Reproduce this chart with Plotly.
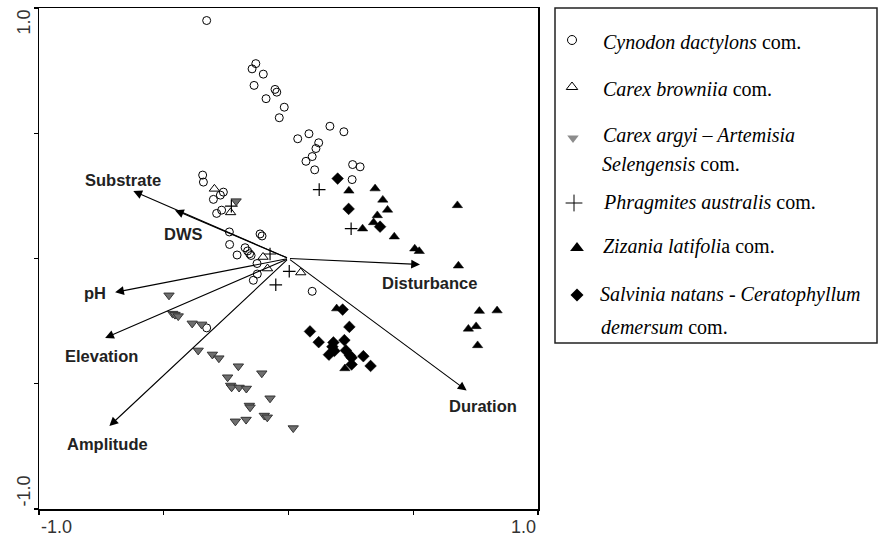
import plotly.graph_objects as go

# ---------------- data (ordination scores) ----------------
cyn_x = [-0.328, -0.131, -0.146, -0.101, -0.138, -0.054, -0.047, -0.090, -0.017, -0.037,
         0.037, 0.166, 0.222, 0.082, 0.121, 0.110, 0.095, 0.070, 0.257, 0.287, 0.105, 0.255,
         -0.344, -0.341, -0.261, -0.273, -0.301, -0.268, -0.288, -0.237, -0.114, -0.106,
         -0.236, -0.206, -0.174, -0.164, -0.156, -0.150, -0.126, -0.125, -0.141, -0.328, 0.095]
cyn_y = [0.950, 0.778, 0.757, 0.736, 0.691, 0.675, 0.664, 0.638, 0.604, 0.562,
         0.478, 0.528, 0.506, 0.498, 0.462, 0.439, 0.407, 0.388, 0.375, 0.366, 0.354, 0.315,
         0.333, 0.305, 0.265, 0.253, 0.236, 0.193, 0.180, 0.106, 0.098, 0.090,
         0.056, 0.014, 0.043, 0.030, 0.019, 0.012, -0.020, -0.062, -0.087, -0.277, -0.131]

cbr_x = [-0.297, -0.232, -0.102, -0.084, 0.049]
cbr_y = [0.278, 0.184, 0.006, -0.040, -0.056]

car_x = [-0.210, -0.479, -0.464, -0.455, -0.442, -0.386, -0.348, -0.362, -0.305, -0.279,
         -0.201, -0.107, -0.244, -0.232, -0.228, -0.198, -0.169, -0.074, -0.157, -0.154,
         -0.097, -0.085, -0.170, -0.213, 0.019]
car_y = [0.229, -0.147, -0.220, -0.224, -0.230, -0.259, -0.263, -0.367, -0.383, -0.398,
         -0.430, -0.458, -0.474, -0.507, -0.514, -0.515, -0.519, -0.558, -0.587, -0.594,
         -0.627, -0.634, -0.643, -0.650, -0.677]

phr_x = [-0.229, -0.074, 0.003, -0.051, 0.123, 0.251]
phr_y = [0.209, 0.018, -0.051, -0.105, 0.275, 0.119]

ziz_x = [0.242, 0.347, 0.378, 0.397, 0.356, 0.341, 0.297, 0.424, 0.506, 0.524,
         0.677, 0.681, 0.765, 0.836, 0.721, 0.752, 0.758, 0.193, 0.226]
ziz_y = [0.270, 0.279, 0.234, 0.194, 0.172, 0.144, 0.119, 0.087, 0.039, 0.029,
         0.212, -0.029, -0.210, -0.208, -0.281, -0.271, -0.347, -0.200, -0.439]

sal_x = [0.197, 0.241, 0.367, 0.217, 0.244, 0.086, 0.121, 0.180, 0.224, 0.176,
         0.184, 0.230, 0.162, 0.246, 0.253, 0.300, 0.253, 0.329]
sal_y = [0.319, 0.198, 0.127, -0.204, -0.273, -0.291, -0.334, -0.335, -0.326, -0.352,
         -0.369, -0.367, -0.384, -0.387, -0.396, -0.390, -0.423, -0.429]

env_names = ["Substrate", "DWS", "pH", "Elevation", "Amplitude", "Disturbance", "Duration"]
env_x = [-0.622, -0.455, -0.695, -0.735, -0.718, 0.527, 0.714]
env_y = [0.269, 0.193, -0.135, -0.317, -0.669, -0.024, -0.527]

legend_labels = [
    ["<i>Cynodon dactylons</i> com."],
    ["<i>Carex browniia</i> com."],
    ["<i>Carex argyi – Artemisia</i>", "<i>Selengensis</i> com."],
    ["<i>Phragmites australis</i> com."],
    ["<i>Zizania latifoli</i>a com."],
    ["<i>Salvinia natans - Ceratophyllum</i>", "<i>demersum</i> com."],
]

# ---------------- styles / layout positions ----------------
W, H = 878, 542
PL, PR, PT, PB = 39, 538, 8, 509          # plot frame in pixels
SANS = "Liberation Sans, Arial, sans-serif"
SERIF = "Liberation Serif, Times New Roman, serif"

# label positions (data units) for the environmental arrows
env_label_pos = {
    "Substrate": (-0.663, 0.315), "DWS": (-0.422, 0.096), "pH": (-0.776, -0.137),
    "Elevation": (-0.749, -0.390), "Amplitude": (-0.726, -0.740),
    "Disturbance": (0.567, -0.097), "Duration": (0.781, -0.590),
}

groups = [
    dict(x=cyn_x, y=cyn_y, symbol="circle-open", size=8, color="black", lw=1),
    dict(x=cbr_x, y=cbr_y, symbol="triangle-up-open", size=9, color="black", lw=1),
    dict(x=car_x, y=car_y, symbol="triangle-down", size=9, color="#6e6e6e", lw=1, lc="#333333"),
    dict(x=phr_x, y=phr_y, symbol="cross-thin", size=9, color="black", lw=1.2),
    dict(x=ziz_x, y=ziz_y, symbol="triangle-up", size=9, color="black", lw=0.5),
    dict(x=sal_x, y=sal_y, symbol="diamond", size=9, color="black", lw=0.5),
]

fig = go.Figure()
for g in groups:
    fig.add_trace(go.Scatter(
        x=g["x"], y=g["y"], mode="markers", xaxis="x", yaxis="y",
        marker=dict(symbol=g["symbol"], size=g["size"], color=g["color"],
                    line=dict(width=g["lw"], color=g.get("lc", g["color"]))),
        hoverinfo="skip", showlegend=False))

annotations = []
for name, ex, ey in zip(env_names, env_x, env_y):
    annotations.append(dict(
        x=ex, y=ey, ax=0, ay=0, xref="x", yref="y", axref="x", ayref="y",
        text="", showarrow=True, arrowhead=2, arrowsize=1.6, arrowwidth=1.1,
        arrowcolor="black", standoff=0, startstandoff=0))
    lx, ly = env_label_pos[name]
    annotations.append(dict(
        x=lx, y=ly, xref="x", yref="y", text="<b>%s</b>" % name, showarrow=False,
        font=dict(family=SANS, size=16.5, color="#222")))

# axis end labels
tick_font = dict(family=SANS, size=18, color="#333")
annotations += [
    dict(x=-1, y=1 - 527 / H, xref="x", yref="paper", text="-1.0", showarrow=False,
         xanchor="left", yanchor="middle", font=tick_font),
    dict(x=1, y=1 - 527 / H, xref="x", yref="paper", text="1.0", showarrow=False,
         xanchor="right", yanchor="middle", font=tick_font),
    dict(x=23 / W, y=1, xref="paper", yref="y", text="1.0", showarrow=False,
         textangle=-90, xanchor="center", yanchor="top", font=tick_font),
    dict(x=23 / W, y=-1, xref="paper", yref="y", text="-1.0", showarrow=False,
         textangle=-90, xanchor="center", yanchor="bottom", font=tick_font),
]

# legend (drawn manually)
leg_box = (555, 8, 877, 343)
leg_sym = [
    dict(px=572, py=40, symbol="circle-open", size=9, color="black", lw=1),
    dict(px=572, py=87, symbol="triangle-up-open", size=10, color="black", lw=1),
    dict(px=573, py=138, symbol="triangle-down", size=10, color="#8c8c8c", lw=0),
    dict(px=574, py=203, symbol="cross-thin", size=12, color="black", lw=1),
    dict(px=577, py=248, symbol="triangle-up", size=12, color="black", lw=0),
    dict(px=577, py=295, symbol="diamond", size=10, color="black", lw=0),
]
leg_text_pos = [[(601, 42)], [(601, 89)], [(601, 136), (600, 164)], [(601, 202)],
                [(601, 247)], [(598, 294), (599, 327)]]

for s in leg_sym:
    fig.add_trace(go.Scatter(
        x=[s["px"]], y=[s["py"]], mode="markers", xaxis="x2", yaxis="y2",
        marker=dict(symbol=s["symbol"], size=s["size"], color=s["color"],
                    line=dict(width=s["lw"], color=s["color"])),
        hoverinfo="skip", showlegend=False))

for lines, poss in zip(legend_labels, leg_text_pos):
    for t, (tx, ty) in zip(lines, poss):
        annotations.append(dict(
            x=tx / W, y=1 - ty / H, xref="paper", yref="paper", text=t, showarrow=False,
            xanchor="left", yanchor="middle", font=dict(family=SERIF, size=20, color="black")))

shapes = [dict(type="rect", xref="paper", yref="paper",
               x0=leg_box[0] / W, x1=leg_box[2] / W, y0=1 - leg_box[3] / H, y1=1 - leg_box[1] / H,
               line=dict(color="#222", width=1.5), fillcolor="rgba(0,0,0,0)")]

axis_common = dict(range=[-1, 1], tickvals=[-1, -0.5, 0, 0.5, 1], ticks="outside", ticklen=4,
                   tickwidth=1.2, tickcolor="black", showticklabels=False, showline=True,
                   mirror=True, linecolor="black", linewidth=1.5, showgrid=False,
                   zeroline=False, fixedrange=True)

fig.update_layout(
    width=W, height=H, margin=dict(l=0, r=0, t=0, b=0),
    paper_bgcolor="white", plot_bgcolor="rgba(0,0,0,0)", showlegend=False,
    xaxis=dict(domain=[PL / W, PR / W], anchor="y", **axis_common),
    yaxis=dict(domain=[1 - PB / H, 1 - PT / H], anchor="x", **axis_common),
    xaxis2=dict(domain=[0, 1], range=[0, W], visible=False, anchor="y2", fixedrange=True),
    yaxis2=dict(domain=[0, 1], range=[H, 0], visible=False, anchor="x2", fixedrange=True),
    annotations=annotations, shapes=shapes,
)

# remove the default 8px page margin so the figure sits at the window's top-left corner
fig.write_html("out.html", config={"staticPlot": True},
               post_script="document.body.style.margin='0';document.body.style.overflow='hidden';")
